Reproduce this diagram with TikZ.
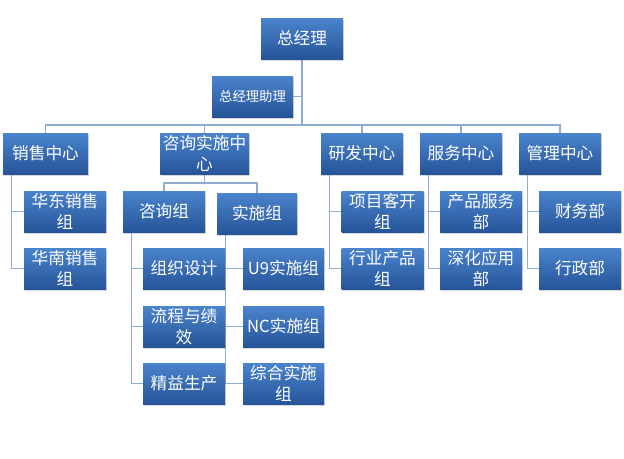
\documentclass[tikz,border=0pt]{standalone}
\usepackage{fontspec}
\setmainfont{Noto Sans CJK SC}
\usepackage{tikz}
\usetikzlibrary{shadows,backgrounds}
\definecolor{boxtop}{RGB}{74,132,205}
\definecolor{boxbot}{RGB}{38,84,152}
\definecolor{linkc}{RGB}{145,172,210}

\begin{document}
\begin{tikzpicture}[x=0.75pt, y=-0.75pt,
    box/.style={top color=boxtop, bottom color=boxbot, text=white,
        minimum width=61.5pt, minimum height=30.75pt, inner sep=0pt,
        align=center, font=\fontsize{12.5}{15.5}\selectfont,
        drop shadow={shadow xshift=0.8pt, shadow yshift=-1.2pt, opacity=0.3}},
    link/.style={draw=linkc, line width=1.2pt}]
      \useasboundingbox (0, 0) rectangle (624, 458);
      \node [box] (zjl) at (302, 38.5) {总经理};
      \node [box, minimum width=60.75pt, font=\fontsize{10}{12}\selectfont] (zl) at (252.5, 96.5) {总经理助理};
      \node [box, minimum width=63.75pt] (xs) at (45.5, 153.5) {销售中心};
      \node [box, minimum width=66.75pt] (zs) at (204.5, 153.5) {咨询实施中\\心};
      \node [box] (yf) at (362, 153.5) {研发中心};
      \node [box] (fw) at (461, 153.5) {服务中心};
      \node [box] (gl) at (560, 153.5) {管理中心};
      \node [box] (hd) at (65, 211.5) {华东销售\\组};
      \node [box] (hn) at (65, 268.5) {华南销售\\组};
      \node [box] (zx) at (164, 211.5) {咨询组};
      \node [box, minimum width=60pt] (ss) at (257, 213.5) {实施组};
      \node [box] (zz) at (184, 268.5) {组织设计};
      \node [box] (lc) at (184, 326.5) {流程与绩\\效};
      \node [box] (jy) at (184, 383.5) {精益生产};
      \node [box, minimum width=60.75pt] (u9) at (283.5, 268.5) {U9实施组};
      \node [box, minimum width=60.75pt] (nc) at (283.5, 326.5) {NC实施组};
      \node [box, minimum width=60.75pt] (zh) at (283.5, 383.5) {综合实施\\组};
      \node [box] (xm) at (382.5, 211.5) {项目客开\\组};
      \node [box] (hy) at (382.5, 268.5) {行业产品\\组};
      \node [box] (cp) at (481, 211.5) {产品服务\\部};
      \node [box] (sh) at (481, 268.5) {深化应用\\部};
      \node [box] (cw) at (580, 211.5) {财务部};
      \node [box] (xz) at (580, 268.5) {行政部};
      \begin{pgfonlayer}{background}
      \coordinate (bus) at (302, 125);
      \draw [link] (zjl) -- (bus);
      \draw [link] (zjl.south) |- (zl.east);
      \foreach \c in {xs, zs, yf, fw, gl}
            \draw [link] (bus) -| (\c.north);
      \draw [link] (zs.south) -- ++(0, 9) coordinate (zsb);
      \draw [link] (zsb) -| (zx.north)
                   (zsb) -| (ss.north);
      \foreach \p/\c in {xs/hd, xs/hn, yf/xm, yf/hy, fw/cp, fw/sh, gl/cw, gl/xz,
                         zx/zz, zx/lc, zx/jy, ss/u9, ss/nc, ss/zh}
            \draw [link] ([xshift=6.5pt]\p.south west) |- (\c.west);
      \end{pgfonlayer}
\end{tikzpicture}
\end{document}
